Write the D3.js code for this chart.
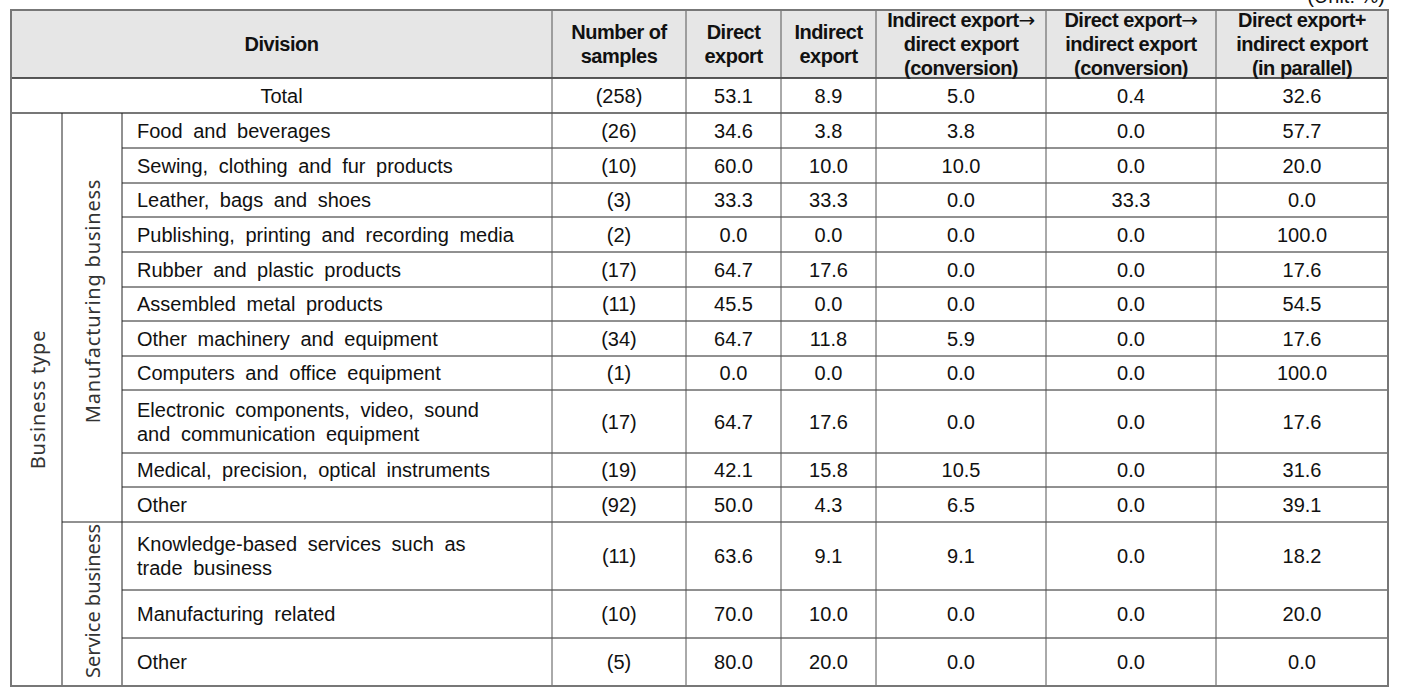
<!DOCTYPE html>
<html>
<head>
<meta charset="utf-8">
<script src="https://cdn.jsdelivr.net/npm/d3@7"></script>
<style>
  html, body { margin: 0; padding: 0; background: #fff; }
  svg { display: block; }
</style>
</head>
<body>
<div id="table-container"></div>
<script>
// Column headers (lines)
const headers = [
    ['Number of', 'samples'],
    ['Direct', 'export'],
    ['Indirect', 'export'],
    ['Indirect export\u2192', 'direct export', '(conversion)'],
    ['Direct export\u2192', 'indirect export', '(conversion)'],
    ['Direct export+', 'indirect export', '(in parallel)']
];

// Row labels
const labels = [
    ['Food and beverages'],
    ['Sewing, clothing and fur products'],
    ['Leather, bags and shoes'],
    ['Publishing, printing and recording media'],
    ['Rubber and plastic products'],
    ['Assembled metal products'],
    ['Other machinery and equipment'],
    ['Computers and office equipment'],
    ['Electronic components, video, sound', 'and communication equipment'],
    ['Medical, precision, optical instruments'],
    ['Other'],
    ['Knowledge-based services such as', 'trade business'],
    ['Manufacturing related'],
    ['Other']
];

// Values: first entry is Total
const samples        = [258, 26, 10, 3, 2, 17, 11, 34, 1, 17, 19, 92, 11, 10, 5];
const directExport   = [53.1, 34.6, 60.0, 33.3, 0.0, 64.7, 45.5, 64.7, 0.0, 64.7, 42.1, 50.0, 63.6, 70.0, 80.0];
const indirectExport = [8.9, 3.8, 10.0, 33.3, 0.0, 17.6, 0.0, 11.8, 0.0, 17.6, 15.8, 4.3, 9.1, 10.0, 20.0];
const indToDirect    = [5.0, 3.8, 10.0, 0.0, 0.0, 0.0, 0.0, 5.9, 0.0, 0.0, 10.5, 6.5, 9.1, 0.0, 0.0];
const dirToIndirect  = [0.4, 0.0, 0.0, 33.3, 0.0, 0.0, 0.0, 0.0, 0.0, 0.0, 0.0, 0.0, 0.0, 0.0, 0.0];
const parallel       = [32.6, 57.7, 20.0, 0.0, 100.0, 17.6, 54.5, 17.6, 100.0, 17.6, 31.6, 39.1, 18.2, 20.0, 0.0];

const groups = [
    { name: 'Manufacturing business', from: 0, to: 10 },
    { name: 'Service business', from: 11, to: 13 }
];

// layout
const width = 1407, height = 688;
const colEdges = [11, 62, 122, 552, 686, 781, 876, 1046, 1216, 1388];
const rowEdges = [10, 78, 113, 148, 183, 217, 252, 287, 321, 356, 390, 453, 487, 522, 590, 638, 686];
const lineGap = 24;
const font = '"Liberation Sans", Arial, sans-serif';

const svg = d3.select('#table-container')
    .append('svg')
    .attr('width', width)
    .attr('height', height);

// unit note, clipped at the top as in the source
svg.append('text')
    .attr('x', 1385)
    .attr('y', 3)
    .attr('text-anchor', 'end')
    .attr('font-family', font)
    .attr('font-size', 20)
    .attr('fill', '#111')
    .text('(Unit: %)');

// header background
svg.append('rect')
    .attr('x', colEdges[0]).attr('y', rowEdges[0])
    .attr('width', colEdges[9] - colEdges[0])
    .attr('height', rowEdges[1] - rowEdges[0])
    .attr('fill', '#e6e6e6');

const colMid = i => (colEdges[i] + colEdges[i + 1]) / 2;
const rowMid = i => (rowEdges[i] + rowEdges[i + 1]) / 2;

function multiline(g, x, yc, lines, opts) {
    const t = g.append('text')
        .attr('x', x)
        .attr('text-anchor', opts.anchor || 'middle')
        .attr('font-family', font)
        .attr('font-size', opts.size || 20)
        .attr('font-weight', opts.weight || 'normal')
        .attr('fill', '#111')
        .style('word-spacing', (opts.ws || 0) + 'px')
        .style('letter-spacing', (opts.ls || 0) + 'px');
    const y0 = yc - (lines.length - 1) * opts.gap / 2;
    lines.forEach((l, i) => {
        const ts = t.append('tspan')
            .attr('x', x)
            .attr('y', y0 + i * opts.gap)
            .attr('dy', '0.35em');
        const parts = l.split('\u2192');
        ts.append('tspan').text(parts[0]);
        if (parts.length > 1) {
            ts.append('tspan')
                .attr('font-family', '"DejaVu Sans", sans-serif')
                .attr('font-weight', 'normal')
                .text('\u2192');
        }
    });
    return t;
}

// header text
const head = svg.append('g');
multiline(head, (colEdges[0] + colEdges[3]) / 2, rowMid(0), ['Division'], { weight: 'bold', gap: lineGap, ls: -0.5 });
headers.forEach((h, i) => {
    multiline(head, colMid(i + 3), rowMid(0), h, { weight: 'bold', gap: lineGap, ls: -0.5 });
});

// body values
const columns = [
    samples.map(d => `(${d})`),
    directExport.map(d => d.toFixed(1)),
    indirectExport.map(d => d.toFixed(1)),
    indToDirect.map(d => d.toFixed(1)),
    dirToIndirect.map(d => d.toFixed(1)),
    parallel.map(d => d.toFixed(1))
];

const body = svg.append('g');
// total label
multiline(body, (colEdges[0] + colEdges[3]) / 2, rowMid(1), ['Total'], { gap: lineGap });

columns.forEach((col, c) => {
    body.selectAll(null)
        .data(col)
        .enter()
        .append('text')
        .attr('x', colMid(c + 3))
        .attr('y', (d, r) => rowMid(r + 1))
        .attr('dy', '0.35em')
        .attr('text-anchor', 'middle')
        .attr('font-family', font)
        .attr('font-size', 20)
        .attr('fill', '#111')
        .text(d => d);
});

labels.forEach((l, r) => {
    multiline(body, colEdges[2] + 15, rowMid(r + 2), l, { anchor: 'start', gap: lineGap, ws: 5 });
});

// vertical labels
const vfont = '"Noto Sans", "DejaVu Sans", sans-serif';
svg.append('text')
    .attr('transform', `translate(${colMid(0) + 1},${(rowEdges[2] + rowEdges[16]) / 2}) rotate(-90)`)
    .attr('text-anchor', 'middle')
    .attr('dy', '0.35em')
    .attr('font-family', vfont)
    .attr('font-size', 20)
    .attr('fill', '#333')
    .style('letter-spacing', '0.8px')
    .text('Business type');

groups.forEach((g, i) => {
    const y0 = rowEdges[g.from + 2], y1 = rowEdges[g.to + 3];
    const yc = i === 0 ? 301 : (y0 + y1) / 2 - 3;
    svg.append('text')
        .attr('transform', `translate(${colMid(1) + 1},${yc}) rotate(-90)`)
        .attr('text-anchor', 'middle')
        .attr('dy', '0.35em')
        .attr('font-family', vfont)
        .attr('font-size', 20)
        .attr('fill', '#333')
        .style('letter-spacing', i === 0 ? '0.8px' : '0px')
        .text(g.name);
});

// grid lines
const grid = svg.append('g').attr('fill', 'none');
function hline(x1, x2, y, stroke, w) {
    grid.append('line').attr('x1', x1).attr('x2', x2).attr('y1', y).attr('y2', y)
        .attr('stroke', stroke).attr('stroke-width', w);
}
function vline(x, y1, y2, stroke, w) {
    grid.append('line').attr('x1', x).attr('x2', x).attr('y1', y1).attr('y2', y2)
        .attr('stroke', stroke).attr('stroke-width', w);
}

// horizontal
hline(colEdges[0], colEdges[9], rowEdges[1], '#222', 1.5);
hline(colEdges[0], colEdges[9], rowEdges[2], '#777', 2);
for (let r = 3; r < 16; r++) {
    const x1 = r === 13 ? colEdges[1] : colEdges[2];
    hline(x1, colEdges[9], rowEdges[r], '#222', 1);
}
// vertical
vline(colEdges[1], rowEdges[2], rowEdges[16], '#222', 1);
vline(colEdges[2], rowEdges[2], rowEdges[16], '#222', 1);
for (let c = 3; c < 9; c++) {
    vline(colEdges[c], rowEdges[0], rowEdges[16], '#555', 1);
}
// outer border
grid.append('rect')
    .attr('x', colEdges[0]).attr('y', rowEdges[0])
    .attr('width', colEdges[9] - colEdges[0])
    .attr('height', rowEdges[16] - rowEdges[0])
    .attr('stroke', '#777').attr('stroke-width', 2);
</script>
</body>
</html>
